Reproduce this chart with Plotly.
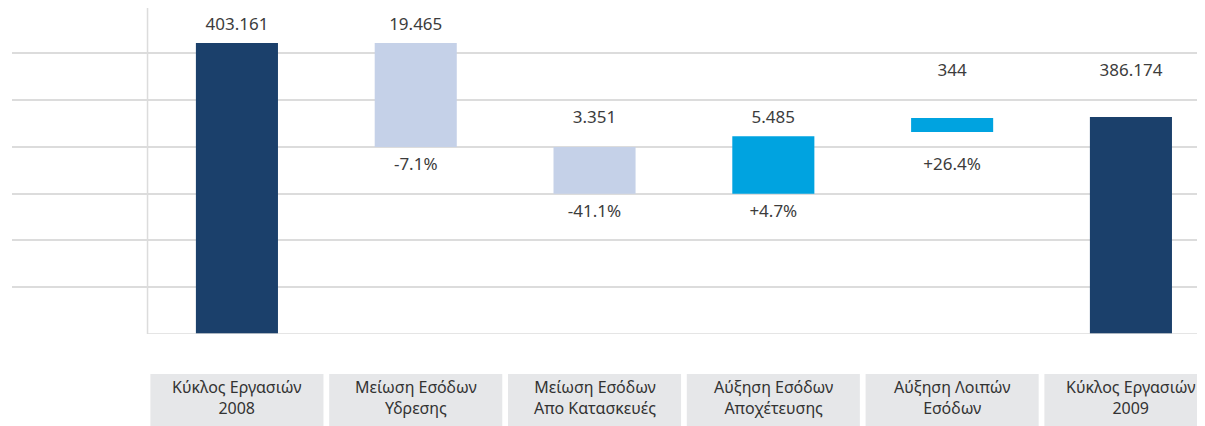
import plotly.graph_objects as go

# Schematic waterfall: turnover 2008 -> 2009 (values in thousand euro)
categories = ["Κύκλος Εργασιών<br>2008", "Μείωση Εσόδων<br>Υδρεσης",
              "Μείωση Εσόδων<br>Απο Κατασκευές", "Αύξηση Εσόδων<br>Αποχέτευσης",
              "Αύξηση Λοιπών<br>Εσόδων", "Κύκλος Εργασιών<br>2009"]
value_labels = ["403.161", "19.465", "3.351", "5.485", "344", "386.174"]
change_labels = ["", "-7.1%", "-41.1%", "+4.7%", "+26.4%", ""]
# bar extents in the chart's (non-proportional) drawing units
bar_base = [0, 4, 3, 3, 4.32, 0]
bar_top = [6.22, 6.22, 4, 4.23, 4.62, 4.64]
bar_colors = ["#1b406b", "#c5d1e8", "#c5d1e8", "#00a3e0", "#00a3e0", "#1b406b"]

x = list(range(len(categories)))

fig = go.Figure()
fig.add_trace(go.Bar(
    x=x, y=[t - b for t, b in zip(bar_top, bar_base)], base=bar_base,
    marker=dict(color=bar_colors, line=dict(width=0)),
    width=0.459, hoverinfo="skip",
))

# labels sit in the middle of a grid band above / below each bar
def top_slot(t):
    s = int(t) + 0.6
    return s if s - t > 0.25 else s + 1

top_y = [top_slot(t) for t in bar_top]
bot_y = [int(b) - 0.4 for b in bar_base]

label_font = dict(family="Noto Sans", size=17, color="#3c3c3c")
fig.add_trace(go.Scatter(
    x=x, y=top_y, text=value_labels, mode="text",
    textfont=label_font, hoverinfo="skip",
))
fig.add_trace(go.Scatter(
    x=[i for i in x if change_labels[i]], y=[bot_y[i] for i in x if change_labels[i]],
    text=[c for c in change_labels if c], mode="text",
    textfont=label_font, hoverinfo="skip",
))

# vertical axis line and baseline
fig.add_shape(type="line", x0=-0.5, x1=-0.5, y0=0, y1=6.97,
              line=dict(color="#dcdcdc", width=1.5))
fig.add_shape(type="line", x0=-0.5, x1=5.46, y0=0, y1=0,
              line=dict(color="#dcdcdc", width=1.5))

# grey category boxes under the chart
for i, cat in enumerate(categories):
    fig.add_shape(type="rect", xref="x", yref="paper",
                  x0=i - 0.484, x1=i + 0.484, y0=-0.1227, y1=-0.30,
                  fillcolor="#e6e7e9", line=dict(width=0), layer="below")
    fig.add_annotation(x=i, y=-0.196, xref="x", yref="paper", text=cat,
                       showarrow=False, yanchor="middle",
                       font=dict(family="Noto Sans", size=16, color="#333333"))

# page body adds 8px at left/top, so margins are shifted to compensate
fig.update_layout(
    width=1205, height=418,
    margin=dict(l=4, r=0, t=0, b=92),
    paper_bgcolor="white", plot_bgcolor="white",
    showlegend=False,
    xaxis=dict(range=[-1.258, 5.459], showgrid=False, zeroline=False,
               showticklabels=False, fixedrange=True),
    yaxis=dict(range=[0, 6.97], tickvals=[1, 2, 3, 4, 5, 6], showticklabels=False,
               showgrid=True, gridcolor="#dcdcdc", gridwidth=1.5,
               zeroline=False, fixedrange=True),
)

fig.write_html("out.html")
